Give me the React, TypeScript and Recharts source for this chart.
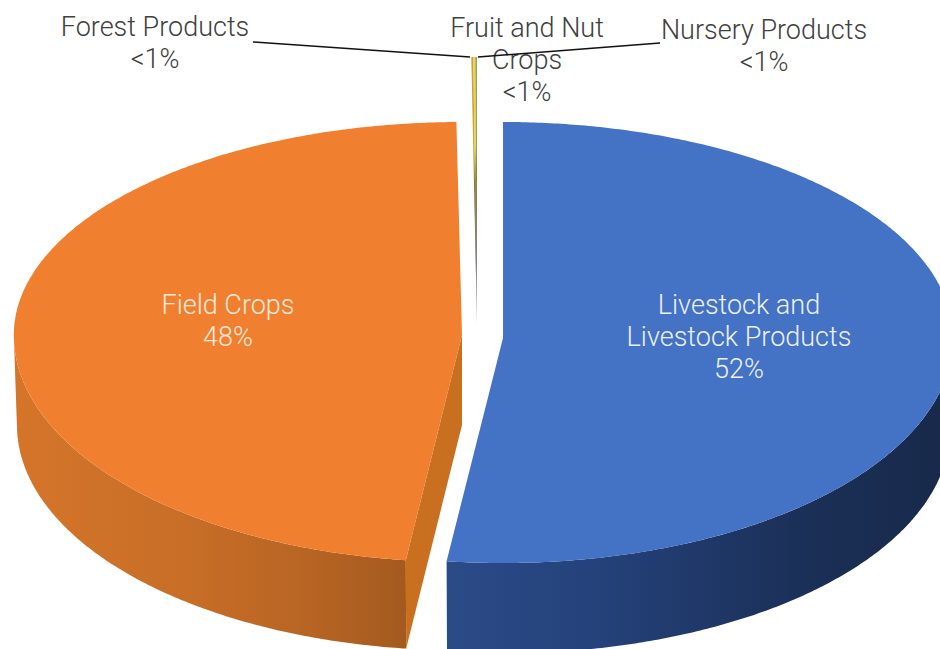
import React from "react";
import { PieChart, Pie } from "recharts";

const categories = ["Livestock and Livestock Products", "Field Crops", "Forest Products", "Fruit and Nut Crops", "Nursery Products"];
const shares = [52, 47.8, 0.07, 0.07, 0.06];
const shareLabels = ["52%", "48%", "<1%", "<1%", "<1%"];
const nameLines = [
  ["Livestock and", "Livestock Products"],
  ["Field Crops"],
  ["Forest Products"],
  ["Fruit and Nut", "Crops"],
  ["Nursery Products"],
];
const topColors = ["#4472C4", "#F0802F", "#C9A332", "#EFD23A", "#96A364"];

const CX = 482, CY = 336, OUTER = 450;
const FONT = "Roboto, sans-serif";

type L = { dx: number; dy: number; kx: number; up: number; down: number; depth: number; wall?: string[]; wallX?: number[]; cut?: string; lx: number; ly: number; color: string; line?: number[] };
const layouts: L[] = [
  { dx: 21, dy: 2, kx: 1, up: 216, down: 225, depth: 92, wall: ["#2B4B87", "#24417A", "#1B3058", "#18294A"], wallX: [450, 600, 800, 945], lx: 739, ly: 305, color: "#EAF0FA" },
  { dx: -20, dy: -1, kx: 0.996, up: 213, down: 227, depth: 90, wall: ["#D5752A", "#C86E27", "#B96524", "#A35A1F"], wallX: [14, 180, 300, 408], cut: "#C8701F", lx: 228, ly: 305, color: "#FBE9DC" },
  { dx: -5, dy: -12, kx: 1, up: 267, down: 0, depth: 0, lx: 155, ly: 27, color: "#404040", line: [253, 42, 470, 57] },
  { dx: -5, dy: -12, kx: 1, up: 267, down: 0, depth: 0, lx: 527, ly: 28, color: "#404040" },
  { dx: -5, dy: -12, kx: 1, up: 267, down: 0, depth: 0, lx: 764, ly: 30, color: "#404040", line: [478, 57, 660, 43] },
];

const rows = categories.map((name, i) => ({ name, value: shares[i], fill: topColors[i], idx: i }));

const rad = (d: number) => (d * Math.PI) / 180;
function rim(l: L, r: number, c: number, drop = 0, shrink = 1) {
  const cos = Math.cos(rad(c));
  const ry = cos >= 0 ? l.up : l.down;
  return [CX + l.dx + r * l.kx * shrink * Math.sin(rad(c)), CY + l.dy + drop - ry * shrink * cos];
}
function arcPts(l: L, r: number, a: number, b: number, drop = 0, shrink = 1) {
  const n = Math.max(2, Math.ceil(Math.abs(b - a) * 2));
  const out: number[][] = [];
  for (let i = 0; i <= n; i++) out.push(rim(l, r, a + ((b - a) * i) / n, drop, shrink));
  return out;
}
const toPath = (pts: number[][]) => "M" + pts.map((p) => `${p[0].toFixed(1)},${p[1].toFixed(1)}`).join("L") + "Z";

function SliceShape(props: any) {
  const idx = props.payload?.idx ?? props.idx ?? props.index ?? 0;
  const l = layouts[idx];
  const a = 90 - props.startAngle;
  const b = 90 - props.endAngle;
  const r = props.outerRadius;
  const apex = [CX + l.dx, CY + l.dy];
  const top = [apex, ...arcPts(l, r, a, b)];
  const fa = Math.max(a, 90), fb = Math.min(b, 270);
  const gradId = `wall${idx}`;
  const thinId = `thin${idx}`;
  const isThin = l.depth === 0;
  return (
    <g>
      <defs>
        {l.wall && (
          <linearGradient id={gradId} gradientUnits="userSpaceOnUse" x1={l.wallX![0]} x2={l.wallX![3]} y1="0" y2="0">
            {l.wall.map((c, i) => (
              <stop key={i} offset={(l.wallX![i] - l.wallX![0]) / (l.wallX![3] - l.wallX![0])} stopColor={c} />
            ))}
          </linearGradient>
        )}
        {isThin && (
          <linearGradient id={thinId} gradientUnits="userSpaceOnUse" x1="0" x2="0" y1="57" y2="324">
            <stop offset="0" stopColor={props.fill} />
            <stop offset="0.33" stopColor={props.fill} />
            <stop offset="0.55" stopColor="#6E6234" />
            <stop offset="0.78" stopColor="#555555" />
            <stop offset="1" stopColor="#A0A0A0" />
          </linearGradient>
        )}
      </defs>
      {l.wall && fb > fa && (
        <path d={toPath([...arcPts(l, r, fa, fb), ...arcPts(l, r, fa, fb, l.depth, 0.993).reverse()])} fill={`url(#${gradId})`} />
      )}
      {l.cut && (
        <path
          d={toPath([apex, rim(l, r, a), rim(l, r, a, l.depth, 0.993), [apex[0], apex[1] + l.depth]])}
          fill={l.cut}
        />
      )}
      <path d={toPath(top)} fill={isThin ? `url(#${thinId})` : props.fill} />
    </g>
  );
}

function renderLabel(props: any) {
  const idx = props.payload?.idx ?? props.idx ?? props.index ?? 0;
  const l = layouts[idx];
  const lines = [...nameLines[idx], shareLabels[idx]];
  return (
    <text key={idx} textAnchor="middle" fontFamily={FONT} fontWeight={300} fontSize={27} fill={l.color}>
      {lines.map((t, i) => (
        <tspan key={i} x={l.lx} y={l.ly + i * 32} dominantBaseline="central">
          {t}
        </tspan>
      ))}
    </text>
  );
}

function renderLeader(props: any) {
  const idx = props.payload?.idx ?? props.idx ?? props.index ?? 0;
  const seg = layouts[idx].line;
  if (!seg) return <g key={idx} />;
  return <line key={idx} x1={seg[0]} y1={seg[1]} x2={seg[2]} y2={seg[3]} stroke="#111111" strokeWidth={1.5} />;
}

export default function App() {
  return (
    <div style={{ position: "absolute", left: 0, top: 0, width: 940, height: 649, overflow: "hidden", background: "#fff" }}>
      <PieChart width={940} height={649} margin={{ top: 0, right: 0, bottom: 0, left: 0 }}>
        <Pie
          data={rows}
          dataKey="value"
          nameKey="name"
          cx={CX}
          cy={CY}
          innerRadius={0}
          outerRadius={OUTER}
          startAngle={90}
          endAngle={-270}
          stroke="none"
          isAnimationActive={false}
          shape={SliceShape}
          label={renderLabel}
          labelLine={renderLeader}
        />
      </PieChart>
    </div>
  );
}
